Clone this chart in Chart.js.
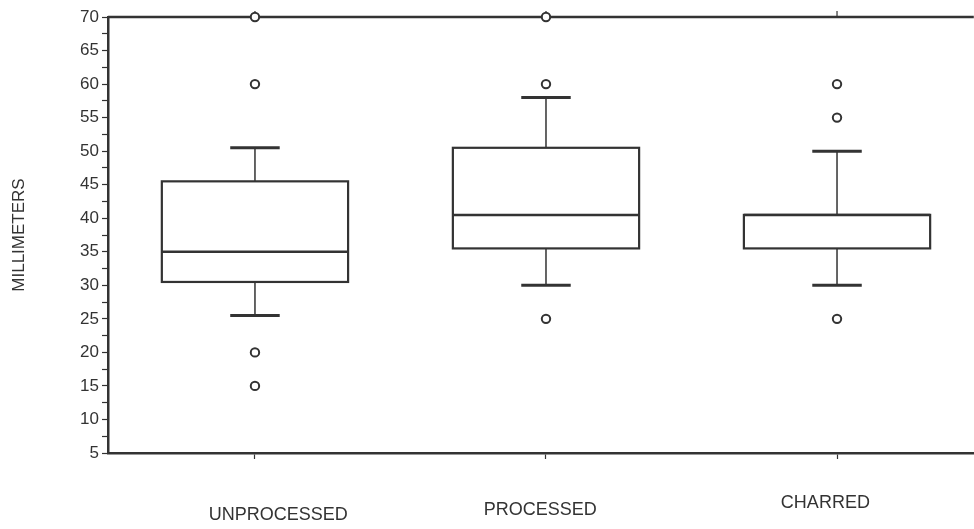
<!DOCTYPE html>
<html>
<head>
<meta charset="utf-8">
<script src="https://cdn.jsdelivr.net/npm/chart.js@4"></script>
<style>
  body { margin: 0; background: #fff; overflow: hidden; }
  #wrap { width: 980px; height: 529px; position: relative; }
</style>
</head>
<body>
<div id="wrap"><canvas id="boxChart"></canvas></div>
<script>
// values (millimeters)
var categories = ["UNPROCESSED", "PROCESSED", "CHARRED"];
var whiskerLow = [25.5, 30, 30];
var quartile1 = [30.5, 35.5, 35.5];
var medians = [35, 40.5, 40.5];
var quartile3 = [45.5, 50.5, 40.5];
var whiskerHigh = [50.5, 58, 50];

// outliers: which group, and the value
var outlierGroup = [0, 0, 0, 0, 1, 1, 1, 2, 2, 2];
var outlierValue = [70, 60, 20, 15, 70, 60, 25, 60, 55, 25];

var ink = "#333";
var boxHalf = 0.32;
var capHalf = 0.085;
// the scanned labels sit a little off their ticks
var labelNudge = [0.08, -0.02, -0.04];
var labelDrop = [62, 57, 50];

var outlierPoints = outlierGroup.map(function (g, i) {
    return { x: g, y: outlierValue[i] };
});

// draws boxes, medians and whiskers through the chart's own scales
var boxPlugin = {
    id: "boxes",
    beforeDatasetsDraw: function (chart) {
        var ctx = chart.ctx;
        var xs = chart.scales.x;
        var ys = chart.scales.y;
        var area = chart.chartArea;
        ctx.save();
        ctx.strokeStyle = ink;
        ctx.lineCap = "butt";

        // top frame line plus its little ticks
        ctx.lineWidth = 2.5;
        ctx.beginPath();
        ctx.moveTo(area.left, area.top);
        ctx.lineTo(area.right, area.top);
        ctx.stroke();
        ctx.lineWidth = 1.2;
        categories.forEach(function (c, i) {
            var px = xs.getPixelForValue(i);
            ctx.beginPath();
            ctx.moveTo(px, area.top);
            ctx.lineTo(px, area.top - 6);
            ctx.stroke();
        });

        for (var i = 0; i < categories.length; i++) {
            var cx = xs.getPixelForValue(i);
            var left = xs.getPixelForValue(i - boxHalf);
            var right = xs.getPixelForValue(i + boxHalf);
            var capL = xs.getPixelForValue(i - capHalf);
            var capR = xs.getPixelForValue(i + capHalf);

            // whisker stems
            ctx.lineWidth = 1.5;
            ctx.beginPath();
            ctx.moveTo(cx, ys.getPixelForValue(quartile3[i]));
            ctx.lineTo(cx, ys.getPixelForValue(whiskerHigh[i]));
            ctx.moveTo(cx, ys.getPixelForValue(quartile1[i]));
            ctx.lineTo(cx, ys.getPixelForValue(whiskerLow[i]));
            ctx.stroke();

            // caps
            ctx.lineWidth = 3;
            ctx.beginPath();
            ctx.moveTo(capL, ys.getPixelForValue(whiskerHigh[i]));
            ctx.lineTo(capR, ys.getPixelForValue(whiskerHigh[i]));
            ctx.moveTo(capL, ys.getPixelForValue(whiskerLow[i]));
            ctx.lineTo(capR, ys.getPixelForValue(whiskerLow[i]));
            ctx.stroke();

            // box
            var top = ys.getPixelForValue(quartile3[i]);
            var bot = ys.getPixelForValue(quartile1[i]);
            ctx.lineWidth = 2.2;
            ctx.fillStyle = "#fff";
            ctx.fillRect(left, top, right - left, bot - top);
            ctx.strokeRect(left, top, right - left, bot - top);

            // median
            ctx.lineWidth = 2.5;
            ctx.beginPath();
            ctx.moveTo(left, ys.getPixelForValue(medians[i]));
            ctx.lineTo(right, ys.getPixelForValue(medians[i]));
            ctx.stroke();
        }

        // category names under the axis
        ctx.fillStyle = ink;
        ctx.font = "18px 'Liberation Sans'";
        ctx.textAlign = "center";
        ctx.textBaseline = "middle";
        categories.forEach(function (c, i) {
            ctx.fillText(c, xs.getPixelForValue(i + labelNudge[i]), area.bottom + labelDrop[i]);
        });
        ctx.restore();
    }
};

new Chart("boxChart", {
    type: "scatter",
    data: {
        datasets: [{
            label: "outliers",
            data: outlierPoints,
            pointStyle: "circle",
            pointRadius: 4.2,
            pointBorderWidth: 2,
            pointBorderColor: ink,
            pointBackgroundColor: "#fff",
            clip: false
        }]
    },
    options: {
        responsive: true,
        maintainAspectRatio: false,
        animation: false,
        layout: { padding: { top: 17, right: 0, left: 0, bottom: 0 } },
        plugins: {
            legend: { display: false },
            tooltip: { enabled: false }
        },
        scales: {
            x: {
                type: "linear",
                min: -0.505,
                max: 2.47,
                afterBuildTicks: function (scale) {
                    scale.ticks = categories.map(function (c, i) { return { value: i }; });
                },
                afterFit: function (scale) { scale.height = 76; },
                ticks: {
                    autoSkip: false,
                    maxRotation: 0,
                    callback: function () { return ""; }
                },
                grid: { drawOnChartArea: false, tickLength: 6, tickColor: ink, tickWidth: 1.2 },
                border: { display: true, color: ink, width: 2.5 }
            },
            y: {
                min: 5,
                max: 70,
                afterFit: function (scale) { scale.width = 108; },
                ticks: {
                    stepSize: 2.5,
                    autoSkip: false,
                    padding: 3,
                    color: ink,
                    font: { family: "Liberation Sans", size: 17 },
                    callback: function (v) { return v % 5 === 0 ? v : ""; }
                },
                grid: { drawOnChartArea: false, tickLength: 6, tickColor: ink, tickWidth: 1.2 },
                border: { display: true, color: ink, width: 2.5 },
                title: {
                    display: true,
                    text: "MILLIMETERS",
                    color: ink,
                    padding: { top: 9, bottom: 0 },
                    font: { family: "Liberation Sans", size: 17 }
                }
            }
        }
    },
    plugins: [boxPlugin]
});
</script>
</body>
</html>
